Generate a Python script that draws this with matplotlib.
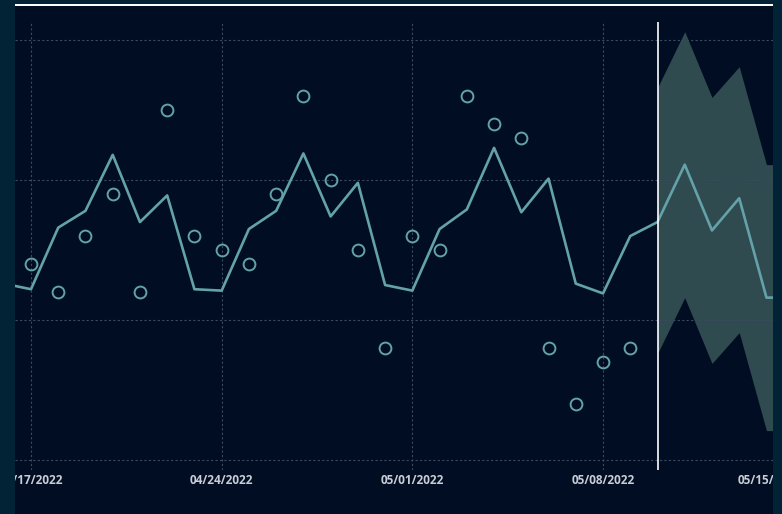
import numpy as np
import pandas as pd
import matplotlib
matplotlib.use('Agg')
import matplotlib.pyplot as plt
import matplotlib.dates as mdates
from matplotlib.patches import Rectangle

# data
dates = pd.date_range('2022-04-16', '2022-05-15', freq='D')
fitted = [12.6, 12.2, 16.6, 17.8, 21.8, 17.0, 18.9, 12.2, 12.1, 16.5,
          17.8, 21.9, 17.4, 19.8, 12.5, 12.1, 16.5, 17.9, 22.3, 17.7,
          20.1, 12.6, 11.9, 16.0, 17.0, 21.1, 16.4, 18.7, 11.6, 11.6]
obs_dates = pd.date_range('2022-04-17', '2022-05-09', freq='D')
observed = [14, 12, 16, 19, 12, 25, 16, 15, 14, 19, 26, 20, 15, 8, 16,
            15, 26, 24, 23, 8, 4, 7, 8]
fc_dates = pd.date_range('2022-05-10', '2022-05-15', freq='D')
fc_upper = [26.6, 30.6, 25.9, 28.1, 21.1, 21.1]
fc_lower = [7.6, 11.6, 6.9, 9.1, 2.1, 2.1]
forecast_start = pd.Timestamp('2022-05-10')
week_ticks = pd.date_range('2022-04-17', '2022-05-15', freq='7D')

W, H = 782, 514
outer = '#022336'
panel = '#000d22'
teal = '#64a2aa'
label_kw = dict(color='#c9ced6', fontsize=8.5, fontfamily='Open Sans', fontweight='bold')

fig = plt.figure(figsize=(W / 100, H / 100), dpi=100, facecolor=outer)
fig.add_artist(Rectangle((15 / W, 0), 758 / W, 510 / H, transform=fig.transFigure,
                         facecolor=panel, edgecolor='none', zorder=-1))

ax = fig.add_axes([15 / W, 44 / H, 758 / W, 448 / H])
ax.set_facecolor('none')

ax.fill_between(fc_dates, fc_lower, fc_upper, color='#2f4b4f', lw=0, zorder=1)
ax.plot(dates, fitted, color=teal, lw=1.9, zorder=3)
ax.plot(obs_dates, observed, 'o', mfc='none', mec=teal, ms=8.5, mew=1.4, zorder=4)
ax.axvline(forecast_start, color='white', lw=1.2, zorder=5)

ax.set_xticks(week_ticks)
ax.xaxis.set_major_formatter(mdates.DateFormatter('%m/%d/%Y'))
ax.set_yticks([0, 10, 20, 30])

# limits after the ticks, otherwise the 05/15 tick widens the view
x0 = pd.Timestamp('2022-04-17')
ax.set_xlim(x0 - pd.Timedelta(days=0.587), x0 + pd.Timedelta(days=27.24))
ax.set_ylim(-0.714, 31.29)

ax.tick_params(axis='x', length=0, pad=3)
ax.tick_params(axis='y', length=0, labelleft=False)
for lab in ax.get_xticklabels():
    lab.set(**label_kw)

# last week label is pushed in from the right edge and cut by the frame
last = week_ticks[-1]
ax.annotate(last.strftime('%m/%d/%Y'), xy=(mdates.date2num(last), 0),
            xycoords=('data', 'axes fraction'), xytext=(-56, -4),
            textcoords='offset pixels', ha='left', va='top',
            annotation_clip=False, **label_kw)

ax.grid(True, color='#3b4a60', lw=0.8, ls=(0, (2, 2)), zorder=2)
ax.set_axisbelow(False)
for s in ax.spines.values():
    s.set_visible(False)

# outer strips cover clipped labels, plus white top rule
fig.add_artist(Rectangle((0, 0), 15 / W, 1, transform=fig.transFigure,
                         facecolor=outer, edgecolor='none', zorder=10))
fig.add_artist(Rectangle((773 / W, 0), 9 / W, 1, transform=fig.transFigure,
                         facecolor=outer, edgecolor='none', zorder=10))
fig.add_artist(Rectangle((15 / W, 508 / H), 758 / W, 2 / H, transform=fig.transFigure,
                         facecolor='white', edgecolor='none', zorder=10))

fig.savefig('out.png', dpi=100, facecolor=outer)
